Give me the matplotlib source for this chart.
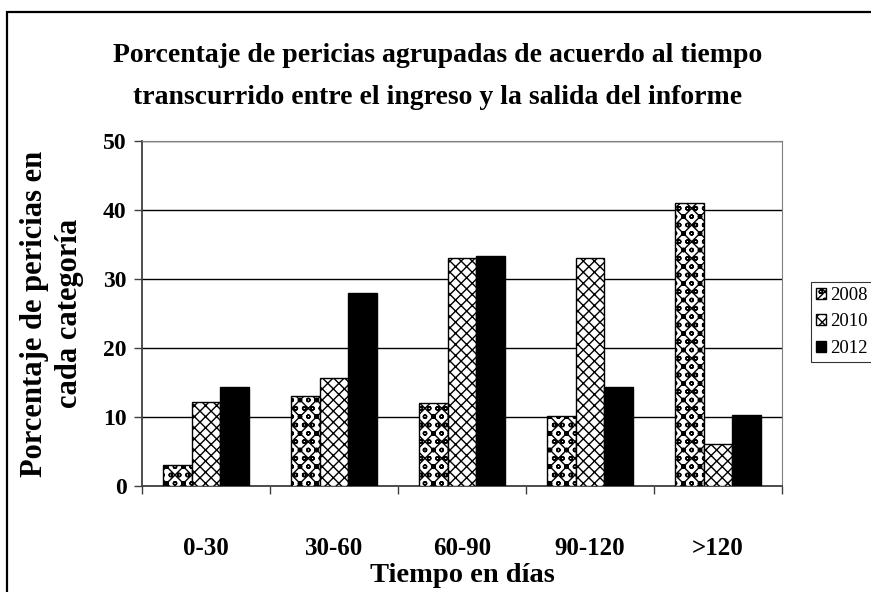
import numpy as np
import matplotlib.pyplot as plt
from matplotlib.patches import Rectangle

# data
categories = ['0-30', '30-60', '60-90', '90-120', '>120']
years = ['2008', '2010', '2012']
v2008 = [3.0, 13.1, 12.0, 10.1, 41.0]
v2010 = [12.2, 15.7, 33.0, 33.0, 6.1]
v2012 = [14.4, 28.0, 33.3, 14.4, 10.3]
yticks = [0, 10, 20, 30, 40, 50]

plt.rcParams['font.family'] = 'Liberation Serif'
plt.rcParams['hatch.linewidth'] = 1.0

fig = plt.figure(figsize=(8.71, 5.92), dpi=100)
ax = fig.add_axes([142/871, 106/592, 640/871, 345/592])

x = np.arange(len(categories))
w = 0.224
series = [v2008, v2010, v2012]
hatches = ['xxoo', 'xxx', None]
faces = ['white', 'white', 'black']
for i, (vals, h, fc) in enumerate(zip(series, hatches, faces)):
    ax.bar(x + (i - 1) * w, vals, w, facecolor=fc, edgecolor='black',
           hatch=h, linewidth=1.0, label=years[i], zorder=3)

ax.set_xlim(-0.5, len(categories) - 0.5)
ax.set_ylim(0, 50)
ax.set_yticks(yticks)
ax.set_yticklabels([str(t) for t in yticks], fontsize=17, fontweight='bold')
ax.set_xticks(x)
ax.set_xticklabels(categories, fontsize=18, fontweight='bold')
ax.tick_params(axis='x', length=0, pad=37)
ax.tick_params(axis='y', direction='out', length=6, width=1, color='#404040', pad=5)
# category boundary ticks
ax.set_xticks(np.arange(-0.5, len(categories)), minor=True)
ax.tick_params(axis='x', which='minor', direction='out', length=6, width=1, color='#404040')
ax.grid(axis='y', color='black', linewidth=1.0, zorder=0)
for side in ['top', 'right']:
    ax.spines[side].set_color('#808080')
for side in ['left', 'bottom']:
    ax.spines[side].set_color('#404040')
    ax.spines[side].set_linewidth(1.3)

ax.set_xlabel('Tiempo en días', fontsize=20.5, fontweight='bold', labelpad=2)
ax.set_ylabel('Porcentaje de pericias en\ncada categoría', fontsize=22,
              fontweight='bold', labelpad=14, linespacing=1.25)

fig.text(0.502, 0.871, 'Porcentaje de pericias agrupadas de acuerdo al tiempo\n'
         'transcurrido entre el ingreso y la salida del informe',
         ha='center', va='center', fontsize=20, fontweight='bold', linespacing=1.9)

leg = ax.legend(loc='upper left', bbox_to_anchor=(811/871, 1 - 282/592),
                bbox_transform=fig.transFigure, fontsize=13.5, frameon=True,
                fancybox=False, edgecolor='black', handlelength=0.55,
                handleheight=0.55, handletextpad=0.2, labelspacing=0.5,
                borderpad=0.27, borderaxespad=0)
leg.get_frame().set_linewidth(0.8)

# outer chart border (extends past right and bottom edge)
fig.patches.append(Rectangle((7/871, -0.1), 1.2, 1 - 12/592 + 0.1,
                             transform=fig.transFigure, fill=False,
                             edgecolor='black', linewidth=1.6))

fig.savefig('out.png', dpi=100)
